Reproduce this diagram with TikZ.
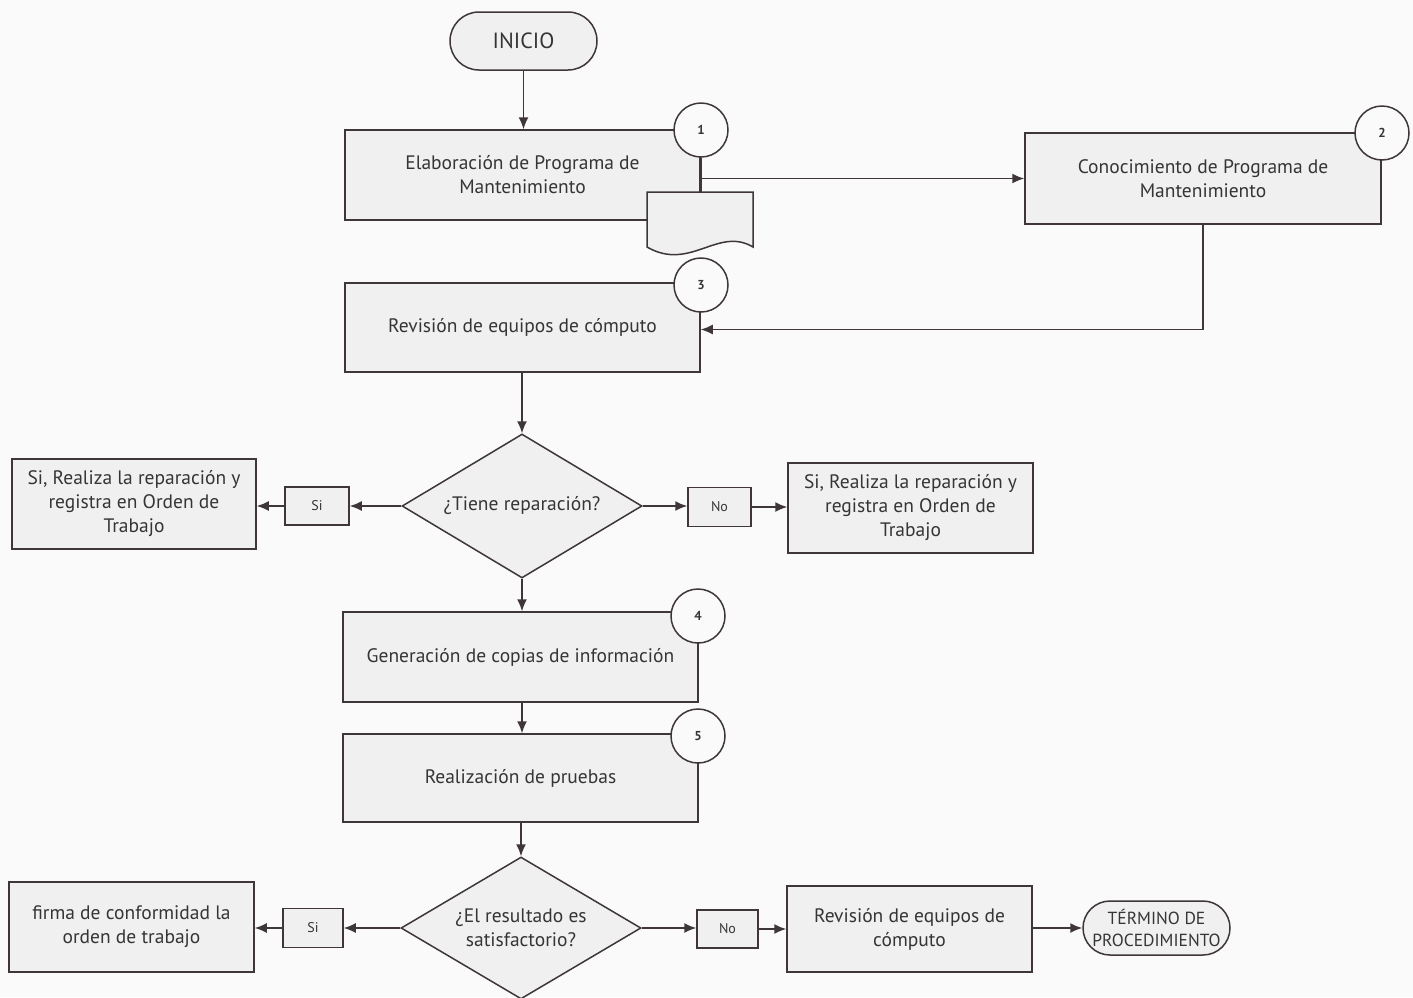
\documentclass[tikz,border=0pt]{standalone}
\usepackage{fontspec}
\setmainfont{PT Sans}
\usetikzlibrary{shapes.geometric,arrows.meta}
\definecolor{ln}{HTML}{3E3638}
\definecolor{bx}{HTML}{F0F0F1}
\definecolor{bg}{HTML}{FAFAFA}
\definecolor{txt}{HTML}{353535}
\tikzset{
  proc/.style={draw=ln, line width=1.5pt, fill=bx, inner sep=0pt, align=center,
    text=txt, font=\fontsize{19.5}{24}\selectfont},
  num/.style={circle, draw=ln, line width=1.5pt, fill=bg, minimum size=54pt,
    inner sep=0pt, text=txt, font=\bfseries\fontsize{13}{15}\selectfont},
  dec/.style={diamond, shape aspect=1.667, draw=ln, line width=1.5pt, fill=bx,
    inner sep=0pt, align=center, text=txt, font=\fontsize{19.5}{24}\selectfont},
  tag/.style={draw=ln, line width=1.5pt, fill=bx, inner sep=0pt, text=txt,
    font=\fontsize{14}{16}\selectfont},
  term/.style={draw=ln, line width=1.5pt, fill=bx, inner sep=0pt, align=center,
    text=txt, font=\fontsize{16}{22}\selectfont},
  conn/.style={draw=ln, line width=1.5pt},
  arr/.style={conn, -{Latex[length=12pt,width=10pt]}}
}
\begin{document}
\begin{tikzpicture}[x=1pt,y=-1pt]
\fill[bg] (0,0) rectangle (1413,997);
\useasboundingbox (0,0) rectangle (1413,997);

% start
\node[term, minimum width=147pt, minimum height=58pt, rounded corners=29pt,
  font=\fontsize{22}{24}\selectfont] (ini) at (523.5,41) {INICIO};

% step 1
\node[proc, minimum width=355pt, minimum height=90pt] (b1) at (522.5,175)
  {Elaboración de Programa de\\Mantenimiento};
\coordinate (doctop) at (701,192);
\draw[conn, fill=bx] (647,192) -- (753,192) -- (753,247)
  .. controls (718,226) and (690,272) .. (647,247) -- cycle;
\node[num] (c1) at (701,130) {1};
\draw[conn] (c1.south) -- (doctop);

% step 2
\node[proc, minimum width=356pt, minimum height=91pt] (b2) at (1203,178.5)
  {Conocimiento de Programa de\\Mantenimiento};
\node[num] (c2) at (1382,133) {2};
\draw[arr] (c1.south |- b2.west) -- (b2.west);

% step 3
\node[proc, minimum width=355pt, minimum height=89pt] (b3) at (522.5,327.5)
  {Revisión de equipos de cómputo};
\node[num] (c3) at (701,285) {3};
\draw[arr] (b2.south) |- ([yshift=-2pt]b3.east);

\draw[arr] (ini.south) -- (ini.south |- b1.north);

% decision 1
\node[dec, minimum width=240pt, minimum height=144pt] (d1) at (522,506)
  {¿Tiene reparación?};
\draw[arr] (b3.south -| d1.north) -- (d1.north);
\node[tag, minimum width=64pt, minimum height=38pt] (si1) at (317,506) {Si};
\node[proc, minimum width=244pt, minimum height=90pt] (l1) at (134,504)
  {Si, Realiza la reparación y\\registra en Orden de\\Trabajo};
\draw[arr] (d1.west) -- (d1.west -| si1.east);
\draw[arr] (si1.west) -- (si1.west -| l1.east);
\node[tag, minimum width=63pt, minimum height=39pt] (no1) at (719.5,507) {No};
\node[proc, minimum width=245pt, minimum height=90pt] (r1) at (910.5,508)
  {Si, Realiza la reparación y\\registra en Orden de\\Trabajo};
\draw[arr] (d1.east) -- (d1.east -| no1.west);
\draw[arr] (no1.east) -- (no1.east -| r1.west);

% step 4
\node[proc, minimum width=355pt, minimum height=90pt] (b4) at (520.5,657)
  {Generación de copias de información};
\node[num] (c4) at (698,616) {4};
\draw[arr] (d1.south) -- (d1.south |- b4.north);

% step 5
\node[proc, minimum width=355pt, minimum height=88pt] (b5) at (520.5,778)
  {Realización de pruebas};
\node[num] (c5) at (698,736) {5};
\draw[arr] (b4.south -| d1.south) -- (d1.south |- b5.north);

% decision 2
\node[dec, minimum width=240pt, minimum height=142pt] (d2) at (521,928)
  {¿El resultado es\\satisfactorio?};
\draw[arr] (b5.south -| d2.north) -- (d2.north);
\node[tag, minimum width=60pt, minimum height=39pt] (si2) at (313,928) {Si};
\node[proc, minimum width=245pt, minimum height=90pt] (l2) at (131.5,927)
  {firma de conformidad la\\orden de trabajo};
\draw[arr] (d2.west) -- (si2.east);
\draw[arr] (si2.west) -- (si2.west -| l2.east);
\node[tag, minimum width=61pt, minimum height=38pt] (no2) at (727.5,929) {No};
\node[proc, minimum width=245pt, minimum height=86pt] (r2) at (909.5,929)
  {Revisión de equipos de\\cómputo};
\node[term, minimum width=147pt, minimum height=54pt, rounded corners=27pt,
  font=\fontsize{17.5}{22}\selectfont] (fin) at (1156.5,928)
  {TÉRMINO DE\\PROCEDIMIENTO};
\draw[arr] (d2.east) -- (d2.east -| no2.west);
\draw[arr] (no2.east) -- (no2.east -| r2.west);
\draw[arr] (r2.east |- fin.west) -- (fin.west);
\end{tikzpicture}
\end{document}
